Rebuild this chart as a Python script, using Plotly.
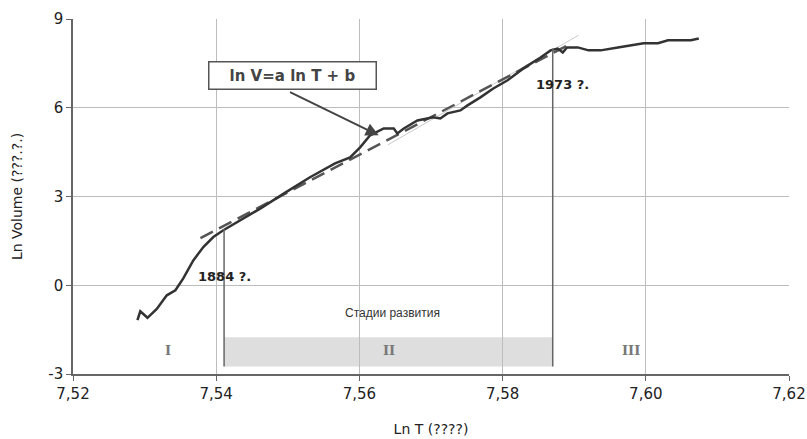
import plotly.graph_objects as go

# Main curve: ln T vs ln Volume
ln_t = [7.5290, 7.5294, 7.5304, 7.5317, 7.5331, 7.5343, 7.5354, 7.5368, 7.5382, 7.5396, 7.5410,
        7.5462, 7.5497, 7.5531, 7.5566, 7.5587, 7.5601, 7.5615, 7.5634, 7.5648, 7.5653, 7.5662,
        7.5681, 7.5695, 7.5703, 7.5713, 7.5723, 7.5741, 7.5751, 7.5769, 7.5787, 7.5807, 7.5829,
        7.5853, 7.5867, 7.5877, 7.5884, 7.5890, 7.5905, 7.5920, 7.5937, 7.5961, 7.5979, 7.5997,
        7.6017, 7.6031, 7.6063, 7.6074]
ln_v = [-1.18, -0.88, -1.10, -0.80, -0.34, -0.17, 0.23, 0.84, 1.29, 1.63, 1.86,
        2.60, 3.14, 3.65, 4.12, 4.32, 4.66, 5.07, 5.30, 5.30, 5.13, 5.30,
        5.57, 5.64, 5.68, 5.64, 5.81, 5.91, 6.08, 6.35, 6.65, 6.93, 7.33,
        7.70, 7.94, 8.00, 7.87, 8.04, 8.04, 7.94, 7.94, 8.04, 8.10, 8.18,
        8.18, 8.28, 8.28, 8.34]

# Fitted line ln V = a ln T + b (dashed) and light trend line
fit_x = [7.5378, 7.5890]
fit_y = [1.59, 8.10]
trend_x = [7.5640, 7.5906]
trend_y = [4.75, 8.45]

# Stage boundaries (1884, 1973)
stage_bounds = [7.5411, 7.5870]
stage_band_y = [-2.75, -1.76]
bound_tops = [1.90, 8.00]
stage_labels = ["I", "II", "III"]
stage_label_x = [7.5333, 7.5642, 7.5980]
stage_label_y = -2.2

year_labels = ["1884 ?.", "1973 ?."]
year_label_x = [7.5411, 7.5883]
year_label_y = [0.28, 6.80]

x_ticks = [7.52, 7.54, 7.56, 7.58, 7.60, 7.62]
x_tick_text = ["7,52", "7,54", "7,56", "7,58", "7,60", "7,62"]
y_ticks = [-3, 0, 3, 6, 9]
y_tick_text = ["-3", "0", "3", "6", "9"]

fig = go.Figure()

fig.add_trace(go.Scatter(x=trend_x, y=trend_y, mode="lines",
                         line=dict(color="#c8c8c8", width=1), hoverinfo="skip"))
fig.add_trace(go.Scatter(x=fit_x, y=fit_y, mode="lines",
                         line=dict(color="#555555", width=2.5, dash="14px,7px"), hoverinfo="skip"))
fig.add_trace(go.Scatter(x=ln_t, y=ln_v, mode="lines",
                         line=dict(color="#333333", width=2.5), hoverinfo="skip"))

# stage II band
fig.add_shape(type="rect", x0=stage_bounds[0], x1=stage_bounds[1],
              y0=stage_band_y[0], y1=stage_band_y[1],
              fillcolor="#dedede", line=dict(width=0), layer="below")
for bx, top in zip(stage_bounds, bound_tops):
    fig.add_shape(type="line", x0=bx, x1=bx, y0=stage_band_y[0], y1=top,
                  line=dict(color="#666666", width=1.5))

for lab, lx in zip(stage_labels, stage_label_x):
    fig.add_annotation(x=lx, y=stage_label_y, text=f"<b>{lab}</b>", showarrow=False,
                       font=dict(family="DejaVu Serif", size=13, color="#777777"))

fig.add_annotation(x=7.5646, y=-0.95, text="Стадии развития", showarrow=False,
                   font=dict(family="Liberation Sans", size=12, color="#333333"))

for lab, lx, ly in zip(year_labels, year_label_x, year_label_y):
    fig.add_annotation(x=lx, y=ly, text=f"<b>{lab}</b>", showarrow=False,
                       font=dict(family="DejaVu Sans", size=13, color="#222222"))

# equation box
fig.add_annotation(x=7.5506, y=7.08, text="<b>ln V=a ln T + b</b>", showarrow=False,
                   font=dict(family="DejaVu Sans", size=15, color="#444444"),
                   bgcolor="white", bordercolor="#555555", borderwidth=1.5,
                   width=164, height=24, borderpad=1)
# arrow
fig.add_annotation(x=7.5627, y=5.07, ax=7.5501, ay=6.55, axref="x", ayref="y",
                   text="", showarrow=True, arrowhead=2, arrowsize=1.3,
                   arrowwidth=2, arrowcolor="#444444")

fig.update_layout(
    width=807, height=439,
    margin=dict(l=73, r=18, t=19, b=65),
    paper_bgcolor="white", plot_bgcolor="white",
    showlegend=False,
    font=dict(family="DejaVu Sans", color="#333333"),
)
fig.update_xaxes(range=[7.52, 7.62], tickvals=x_ticks, ticktext=x_tick_text,
                 automargin=False,
                 showgrid=True, gridcolor="#bdbdbd", gridwidth=1,
                 showline=True, linecolor="#666666", linewidth=1.5,
                 ticks="outside", ticklen=5, tickcolor="#666666",
                 tickfont=dict(size=15, color="#222222"),
                 title=dict(text="Ln T (????)", font=dict(size=14, color="#222222"), standoff=22),
                 zeroline=False)
fig.update_yaxes(range=[-3, 9], tickvals=y_ticks, ticktext=y_tick_text,
                 automargin=False,
                 showgrid=True, gridcolor="#bdbdbd", gridwidth=1,
                 showline=True, linecolor="#666666", linewidth=1.5,
                 ticks="outside", ticklen=5, tickcolor="#666666",
                 tickfont=dict(size=15, color="#222222"),
                 title=dict(text="Ln Volume (???.?.)", font=dict(size=14, color="#222222"), standoff=22),
                 zeroline=False)

fig.write_html("out.html")
